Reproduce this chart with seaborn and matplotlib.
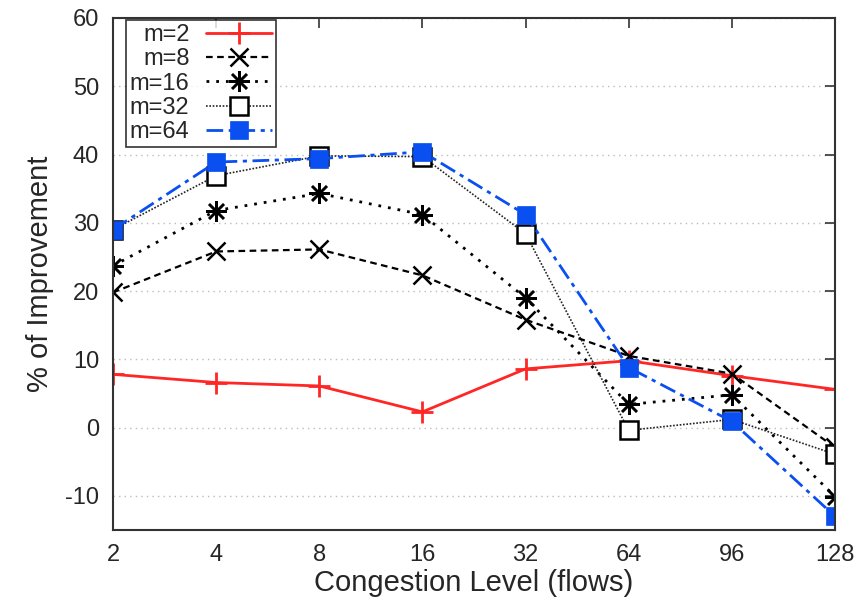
import matplotlib
matplotlib.use("Agg")
import matplotlib.pyplot as plt
import seaborn as sns
import pandas as pd

categories = ["2", "4", "8", "16", "32", "64", "96", "128"]
m2 = [7.8, 6.6, 6.1, 2.3, 8.6, 9.8, 7.6, 5.6]
m8 = [19.8, 25.8, 26.1, 22.3, 15.8, 10.5, 7.9, -2.9]
m16 = [23.7, 31.8, 34.3, 31.2, 19.0, 3.4, 4.8, -10.1]
m32 = [29.0, 36.9, 39.8, 39.7, 28.4, -0.4, 1.2, -3.9]
m64 = [29.0, 38.9, 39.4, 40.4, 31.2, 8.8, 0.9, -13.0]
series_names = ["m=2", "m=8", "m=16", "m=32", "m=64"]
series_values = [m2, m8, m16, m32, m64]
yticks = [-10, 0, 10, 20, 30, 40, 50, 60]

sns.set_theme(style="white")
plt.rcParams["font.family"] = ["Liberation Sans", "DejaVu Sans"]
plt.rcParams["axes.unicode_minus"] = False

fig = plt.figure(figsize=(8.55, 6.04), dpi=100)
ax = fig.add_axes([113 / 855, 74 / 604, 722 / 855, 512 / 604])

styles = [
    dict(color="#ff2626", marker="+", linestyle="-", linewidth=2.0, markersize=16,
         markeredgewidth=2.0, markeredgecolor="#ff2626"),
    dict(color="black", marker="x", linestyle=(0, (3, 2)), linewidth=1.6, markersize=13,
         markeredgewidth=1.8, markeredgecolor="black"),
    dict(color="black", marker=(8, 2, 0), linestyle=(0, (1, 2.5)), linewidth=2.0, markersize=15,
         markeredgewidth=1.8, markeredgecolor="black"),
    dict(color="#222222", marker="s", linestyle=(0, (1, 1)), linewidth=1.2, markersize=13,
         markeredgewidth=1.8, markerfacecolor="white", markeredgecolor="black"),
    dict(color="#0a4ff0", marker="s", linestyle=(0, (6, 2, 1.5, 2)), linewidth=2.0, markersize=13,
         markeredgewidth=0.5, markeredgecolor="#0a4ff0"),
]

xpos = list(range(len(categories)))
for name, vals, st in zip(series_names, series_values, styles):
    df = pd.DataFrame({"x": xpos, "y": vals})
    sns.lineplot(data=df, x="x", y="y", ax=ax, label=name, **st)

ax.set_xlim(0, 7)
ax.set_ylim(-15, 60)
ax.set_xticks(xpos)
ax.set_xticklabels(categories)
ax.set_yticks(yticks)
ax.tick_params(axis="both", direction="in", top=True, right=True, length=7, width=1.2,
               labelsize=17, pad=10, color="#333333")
ax.yaxis.grid(True, linestyle=(0, (1, 3)), color="#bbbbbb", linewidth=1.0)
ax.xaxis.grid(False)
for sp in ax.spines.values():
    sp.set_linewidth(1.5)
    sp.set_color("#333333")

ax.set_xlabel("Congestion Level (flows)", fontsize=21, labelpad=2)
ax.set_ylabel("% of Improvement", fontsize=21, labelpad=8)

leg = ax.legend(loc="upper left", bbox_to_anchor=(0.015, 1.0), markerfirst=False,
                fancybox=False, frameon=True, edgecolor="black", fontsize=17,
                handlelength=2.8, labelspacing=0.1, borderpad=0.15, handletextpad=0.7,
                borderaxespad=0.1)
leg.get_frame().set_linewidth(1.2)
for t in leg.get_texts():
    t.set_ha("right")

fig.savefig("out.png", dpi=100)
